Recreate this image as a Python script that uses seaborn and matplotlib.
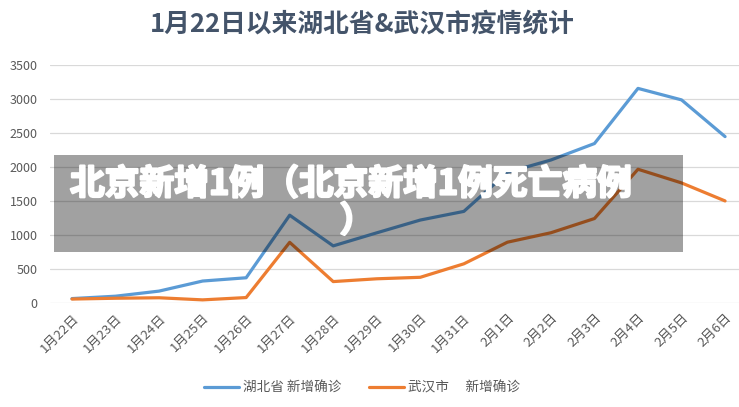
import numpy as np
import pandas as pd
from matplotlib import pyplot as plt
from matplotlib.patches import Rectangle
import matplotlib.patheffects as pe
import seaborn as sns

dates = ['1月22日', '1月23日', '1月24日', '1月25日', '1月26日', '1月27日',
         '1月28日', '1月29日', '1月30日', '1月31日', '2月1日', '2月2日',
         '2月3日', '2月4日', '2月5日', '2月6日']
hubei = [65, 100, 175, 323, 371, 1291, 840, 1032, 1220, 1347, 1921, 2103, 2345, 3156, 2987, 2447]
wuhan = [58, 70, 77, 46, 80, 892, 315, 356, 378, 576, 894, 1033, 1242, 1967, 1766, 1501]
series_names = ['湖北省 新增确诊', '武汉市　 新增确诊']
colors = ['#5B9BD5', '#ED7D31']
overlay_line1 = '北京新增1例（北京新增1例死亡病例'
overlay_line2 = '）'
title = '1月22日以来湖北省&武汉市疫情统计'

df = pd.concat([
    pd.DataFrame({'date': dates, 'value': hubei, 'series': series_names[0]}),
    pd.DataFrame({'date': dates, 'value': wuhan, 'series': series_names[1]}),
])

sns.set_style('white')
plt.rcParams['font.family'] = ['Noto Sans CJK SC', 'DejaVu Sans']

W, H = 739, 407
fig = plt.figure(figsize=(W / 100, H / 100), dpi=100)
ax = fig.add_axes([50 / W, 1 - 303 / H, (W - 50) / W, (303 - 65) / H])

sns.lineplot(data=df, x='date', y='value', hue='series', palette=colors,
             linewidth=2.3, ax=ax, sort=False, solid_capstyle='round')

ax.set_ylim(0, 3500)
ax.set_yticks(np.arange(0, 3501, 500))
ax.set_xlim(-0.505, 15.32)
ax.grid(axis='y', color='#D9D9D9', linewidth=0.9)
ax.set_axisbelow(True)
for s in ax.spines.values():
    s.set_visible(False)
ax.set_xlabel('')
ax.set_ylabel('')
ax.tick_params(axis='y', length=0, pad=9, labelsize=9, labelcolor='#595959')
ax.tick_params(axis='x', length=0, pad=6, labelsize=9.5, labelcolor='#595959')
plt.setp(ax.get_xticklabels(), rotation=45, ha='right', va='top', rotation_mode='anchor')
for lbl in ax.get_xticklabels():
    lbl.set_x(lbl.get_position()[0] + 0.1)

handles, labels = ax.get_legend_handles_labels()
ax.legend(handles, labels, loc='center', bbox_to_anchor=(362 / W, 1 - 388 / H),
          bbox_transform=fig.transFigure, ncol=2, frameon=False, fontsize=9.8,
          handlelength=2.6, columnspacing=2.0, handletextpad=0.3, labelcolor='#595959')

fig.text(362 / W, 1 - 25 / H, title, ha='center', va='center', fontsize=18.5,
         fontweight='bold', color='#44546A')

# grey overlay banner on top of the chart
fig.add_artist(Rectangle((54 / W, 1 - 252 / H), (683 - 54) / W, (252 - 155) / H,
                         transform=fig.transFigure, facecolor='black', alpha=0.37,
                         edgecolor='none', zorder=10))
heavy = [pe.withStroke(linewidth=1.6, foreground='white')]
fig.text(70 / W, 1 - 184 / H, overlay_line1, ha='left', va='center', fontsize=25,
         fontweight='bold', color='white', zorder=11, path_effects=heavy)
fig.text(357 / W, 1 - 221 / H, overlay_line2, ha='center', va='center', fontsize=25,
         fontweight='bold', color='white', zorder=11, path_effects=heavy)

plt.savefig('out.png', dpi=100)
